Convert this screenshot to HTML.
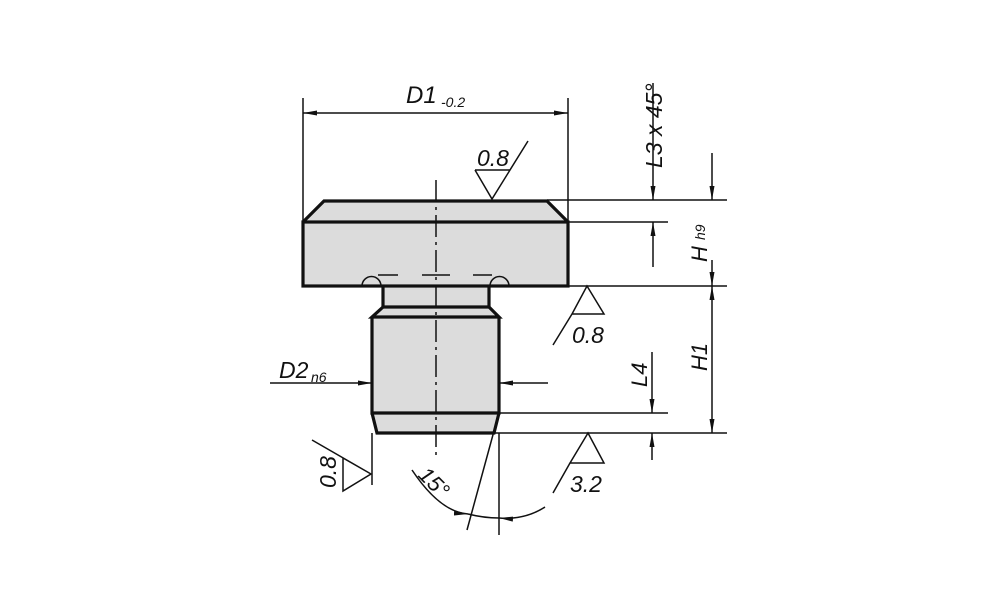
<!DOCTYPE html>
<html><head><style>
html,body{margin:0;padding:0;background:#fff;}
svg{display:block}
text{font-family:"Liberation Sans",sans-serif;font-style:italic;fill:#111}
</style></head><body>
<svg width="1000" height="611" viewBox="0 0 1000 611" xmlns="http://www.w3.org/2000/svg">
<defs>
<marker id="a" viewBox="0 0 14 6" refX="14" refY="3" markerWidth="14" markerHeight="6" markerUnits="userSpaceOnUse" orient="auto">
<path d="M0,0.5 L14,3 L0,5.5 Z" fill="#111"/>
</marker>
</defs>
<g stroke="#111" fill="none" stroke-width="1.5">
<path d="M324,201 L547,201 L568,222 L568,286 L303,286 L303,222 Z" fill="#dcdcdc" stroke="none"/>
<path d="M383,286 L489,286 L489,307 L499,317 L499,413 L494,433 L377,433 L372,413 L372,317 L383,307 Z" fill="#dcdcdc" stroke="none"/>
<g stroke-width="3.2">
<path d="M303,222 L324,201 L547,201 L568,222"/>
<rect x="303" y="222" width="265" height="64"/>
<path d="M383,286 L383,307 L489,307 L489,286"/>
<path d="M383,307 L372,317 L499,317 L489,307"/>
<path d="M372,317 L372,413 L499,413 L499,317"/>
<path d="M372,413 L377,433 L494,433 L499,413"/>
</g>
<path d="M362,286 A9,9 0 0 1 381,286"/>
<path d="M490,286 A9,9 0 0 1 509,286"/>
<path d="M378,275 L398,275 M422,275 L450,275 M473,275 L492,275"/>
<path d="M436,180 L436,455" stroke-dasharray="22,5,3,5"/>
<path d="M303,98 L303,222 M568,98 L568,222"/>
<line x1="436" y1="113" x2="303" y2="113" marker-end="url(#a)"/>
<line x1="436" y1="113" x2="568" y2="113" marker-end="url(#a)"/>
<path d="M475,170 L510,170 L492,199 L475,170 M492,199 L528,141"/>
<path d="M547,200 L727,200 M568,222 L668,222 M568,286 L727,286 M499,413 L668,413 M494,433 L727,433"/>
<line x1="653" y1="83" x2="653" y2="200" marker-end="url(#a)"/>
<line x1="653" y1="267" x2="653" y2="222" marker-end="url(#a)"/>
<line x1="712" y1="153" x2="712" y2="200" marker-end="url(#a)"/>
<line x1="712" y1="260" x2="712" y2="286" marker-end="url(#a)"/>
<line x1="712" y1="380" x2="712" y2="286" marker-end="url(#a)"/>
<line x1="712" y1="380" x2="712" y2="433" marker-end="url(#a)"/>
<line x1="652" y1="352" x2="652" y2="413" marker-end="url(#a)"/>
<line x1="652" y1="460" x2="652" y2="433" marker-end="url(#a)"/>
<path d="M587,286 L604,314 L572,314 Z M572,314 L553,345"/>
<path d="M588,433 L604,463 L570,463 Z M570,463 L553,493"/>
<line x1="270" y1="383" x2="372" y2="383" marker-end="url(#a)"/>
<line x1="548" y1="383" x2="499" y2="383" marker-end="url(#a)"/>
<path d="M372,433 L372,485"/>
<path d="M343,458 L371,474 L343,491 Z M371,474 L312,440"/>
<path d="M499,433 L499,535 M497,420 L467,530"/>
<path d="M412,470 Q440,512 468,514" marker-end="url(#a)"/>
<path d="M545,507 Q525,520 499,518" marker-end="url(#a)"/>
<path d="M468,514 Q484,518 499,518"/>
</g>
<text x="406" y="103" font-size="24">D1</text>
<text x="441" y="107" font-size="14">-0.2</text>
<text x="477" y="166" font-size="23">0.8</text>
<text transform="translate(662,168) rotate(-90)" font-size="23">L3 x 45°</text>
<text transform="translate(707,262) rotate(-90)" font-size="22">H</text>
<text transform="translate(705,240) rotate(-90)" font-size="14">h9</text>
<text transform="translate(707,371) rotate(-90)" font-size="22">H1</text>
<text transform="translate(647,387) rotate(-90)" font-size="22">L4</text>
<text x="572" y="343" font-size="23">0.8</text>
<text x="570" y="492" font-size="23">3.2</text>
<text x="279" y="378" font-size="23">D2</text>
<text x="311" y="382" font-size="14">n6</text>
<text transform="translate(336,488) rotate(-90)" font-size="23">0.8</text>
<text transform="translate(417,476) rotate(45)" font-size="22">15°</text>
</svg>
</body></html>
